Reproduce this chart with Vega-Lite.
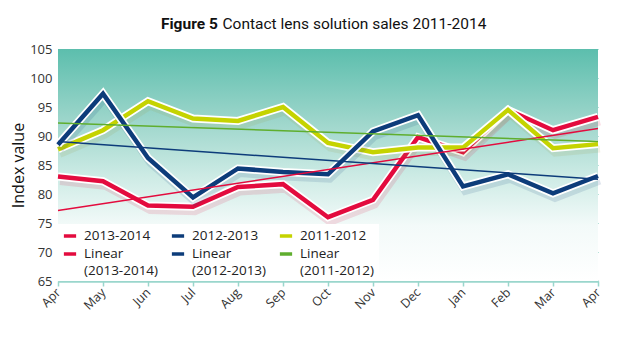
{
  "$schema": "https://vega.github.io/schema/vega-lite/v6.json",
  "width": 540,
  "height": 232,
  "autosize": "none",
  "padding": {"left": 58, "top": 49, "right": 32, "bottom": 57},
  "background": "white",
  "title": {
    "text": "Figure 5",
    "subtitle": "\u200b\u00a0\u00a0\u00a0\u00a0\u00a0\u00a0\u00a0\u00a0\u00a0\u00a0\u00a0\u00a0\u00a0\u00a0\u00a0\u00a0Contact lens solution sales 2011-2014",
    "anchor": "start",
    "frame": "group",
    "dx": 103,
    "offset": 11,
    "font": "Roboto",
    "fontSize": 15.5,
    "fontWeight": "bold",
    "color": "#111",
    "subtitleFont": "Roboto",
    "subtitleFontSize": 15.5,
    "subtitleFontWeight": "normal",
    "subtitleColor": "#111",
    "subtitlePadding": -15.5
  },
  "config": {
    "view": {"stroke": null},
    "font": "Open Sans"
  },
  "data": {
    "values": [
      {"m": 0, "month": "Apr", "series": "2013-2014", "trend": "Linear (2013-2014)", "value": 83.0},
      {"m": 1, "month": "May", "series": "2013-2014", "trend": "Linear (2013-2014)", "value": 82.2},
      {"m": 2, "month": "Jun", "series": "2013-2014", "trend": "Linear (2013-2014)", "value": 78.0},
      {"m": 3, "month": "Jul", "series": "2013-2014", "trend": "Linear (2013-2014)", "value": 77.8},
      {"m": 4, "month": "Aug", "series": "2013-2014", "trend": "Linear (2013-2014)", "value": 81.2},
      {"m": 5, "month": "Sep", "series": "2013-2014", "trend": "Linear (2013-2014)", "value": 81.7},
      {"m": 6, "month": "Oct", "series": "2013-2014", "trend": "Linear (2013-2014)", "value": 76.0},
      {"m": 7, "month": "Nov", "series": "2013-2014", "trend": "Linear (2013-2014)", "value": 79.0},
      {"m": 8, "month": "Dec", "series": "2013-2014", "trend": "Linear (2013-2014)", "value": 89.8},
      {"m": 9, "month": "Jan", "series": "2013-2014", "trend": "Linear (2013-2014)", "value": 87.2},
      {"m": 10, "month": "Feb", "series": "2013-2014", "trend": "Linear (2013-2014)", "value": 94.5},
      {"m": 11, "month": "Mar", "series": "2013-2014", "trend": "Linear (2013-2014)", "value": 91.0},
      {"m": 12, "month": "Apr", "series": "2013-2014", "trend": "Linear (2013-2014)", "value": 93.3},
      {"m": 0, "month": "Apr", "series": "2012-2013", "trend": "Linear (2012-2013)", "value": 88.5},
      {"m": 1, "month": "May", "series": "2012-2013", "trend": "Linear (2012-2013)", "value": 97.3},
      {"m": 2, "month": "Jun", "series": "2012-2013", "trend": "Linear (2012-2013)", "value": 86.2},
      {"m": 3, "month": "Jul", "series": "2012-2013", "trend": "Linear (2012-2013)", "value": 79.4},
      {"m": 4, "month": "Aug", "series": "2012-2013", "trend": "Linear (2012-2013)", "value": 84.4},
      {"m": 5, "month": "Sep", "series": "2012-2013", "trend": "Linear (2012-2013)", "value": 83.8},
      {"m": 6, "month": "Oct", "series": "2012-2013", "trend": "Linear (2012-2013)", "value": 83.4},
      {"m": 7, "month": "Nov", "series": "2012-2013", "trend": "Linear (2012-2013)", "value": 90.8},
      {"m": 8, "month": "Dec", "series": "2012-2013", "trend": "Linear (2012-2013)", "value": 93.6},
      {"m": 9, "month": "Jan", "series": "2012-2013", "trend": "Linear (2012-2013)", "value": 81.3},
      {"m": 10, "month": "Feb", "series": "2012-2013", "trend": "Linear (2012-2013)", "value": 83.4},
      {"m": 11, "month": "Mar", "series": "2012-2013", "trend": "Linear (2012-2013)", "value": 80.1},
      {"m": 12, "month": "Apr", "series": "2012-2013", "trend": "Linear (2012-2013)", "value": 83.1},
      {"m": 0, "month": "Apr", "series": "2011-2012", "trend": "Linear (2011-2012)", "value": 87.7},
      {"m": 1, "month": "May", "series": "2011-2012", "trend": "Linear (2011-2012)", "value": 91.0},
      {"m": 2, "month": "Jun", "series": "2011-2012", "trend": "Linear (2011-2012)", "value": 96.0},
      {"m": 3, "month": "Jul", "series": "2011-2012", "trend": "Linear (2011-2012)", "value": 93.0},
      {"m": 4, "month": "Aug", "series": "2011-2012", "trend": "Linear (2011-2012)", "value": 92.6},
      {"m": 5, "month": "Sep", "series": "2011-2012", "trend": "Linear (2011-2012)", "value": 95.0},
      {"m": 6, "month": "Oct", "series": "2011-2012", "trend": "Linear (2011-2012)", "value": 88.8},
      {"m": 7, "month": "Nov", "series": "2011-2012", "trend": "Linear (2011-2012)", "value": 87.2},
      {"m": 8, "month": "Dec", "series": "2011-2012", "trend": "Linear (2011-2012)", "value": 88.0},
      {"m": 9, "month": "Jan", "series": "2011-2012", "trend": "Linear (2011-2012)", "value": 88.0},
      {"m": 10, "month": "Feb", "series": "2011-2012", "trend": "Linear (2011-2012)", "value": 94.5},
      {"m": 11, "month": "Mar", "series": "2011-2012", "trend": "Linear (2011-2012)", "value": 87.9},
      {"m": 12, "month": "Apr", "series": "2011-2012", "trend": "Linear (2011-2012)", "value": 88.6}
    ]
  },
  "encoding": {
    "x": {
      "field": "m",
      "type": "quantitative",
      "scale": {"domain": [0, 12], "nice": false, "zero": false},
      "axis": {
        "title": null,
        "values": [0, 1, 2, 3, 4, 5, 6, 7, 8, 9, 10, 11, 12],
        "labelExpr": "datum.value == 0 || datum.value == 12 ? 'Apr' : datum.value == 1 ? 'May' : datum.value == 2 ? 'Jun' : datum.value == 3 ? 'Jul' : datum.value == 4 ? 'Aug' : datum.value == 5 ? 'Sep' : datum.value == 6 ? 'Oct' : datum.value == 7 ? 'Nov' : datum.value == 8 ? 'Dec' : datum.value == 9 ? 'Jan' : datum.value == 10 ? 'Feb' : 'Mar'",
        "labelAngle": -45,
        "labelAlign": "right",
        "labelBaseline": "middle",
        "labelFontSize": 12.5,
        "labelColor": "#333",
        "labelPadding": 4,
        "grid": false,
        "domainColor": "#9ad6cc",
        "domainWidth": 2.5,
        "tickColor": "#9ad6cc",
        "tickWidth": 1.5,
        "tickSize": 5,
        "labelFlush": false,
        "labelOverlap": false
      }
    },
    "y": {
      "field": "value",
      "type": "quantitative",
      "scale": {"domain": [65, 105], "nice": false, "zero": false},
      "axis": {
        "title": "Index value",
        "titleFontSize": 16,
        "titleFontWeight": "normal",
        "titleColor": "#111",
        "titlePadding": 3,
        "values": [65, 70, 75, 80, 85, 90, 95, 100, 105],
        "labelFontSize": 13,
        "labelColor": "#333",
        "labelPadding": 6,
        "domain": false,
        "ticks": false,
        "grid": true,
        "gridColor": "#6cc4b3",
        "gridWidth": 1
      }
    }
  },
  "layer": [
    {
      "mark": {"type": "rect", "fill": {"gradient": "linear", "x1": 0, "y1": 0, "x2": 0, "y2": 1, "stops": [{"offset": 0, "color": "#5cbead"}, {"offset": 0.3, "color": "#9bd5ca"}, {"offset": 0.55, "color": "#cdebe5"}, {"offset": 0.76, "color": "#f3faf9"}, {"offset": 1, "color": "#ffffff"}]}},
      "encoding": {"x": {"value": 0}, "x2": {"value": "width"}, "y": {"value": 0}, "y2": {"value": "height"}}
    },
    {
      "transform": [{"filter": "datum.series === '2013-2014'"}],
      "layer": [
        {"mark": {"type": "line", "strokeWidth": 7, "color": "#e30b3e", "opacity": 0.13, "xOffset": 2, "yOffset": 5}},
        {"mark": {"type": "line", "strokeWidth": 8, "color": "white"}},
        {"mark": {"type": "line", "strokeWidth": 4.5},
         "encoding": {"color": {"field": "series", "type": "nominal",
           "scale": {"domain": ["2013-2014", "Linear (2013-2014)", "2012-2013", "Linear (2012-2013)", "2011-2012", "Linear (2011-2012)"], "range": ["#e30b3e", "#e30b3e", "#0d3c7a", "#0d3c7a", "#c5d300", "#5fae2e"]},
           "legend": {
             "title": null,
             "orient": "none",
             "legendX": 0,
             "legendY": 175,
             "columns": 3,
             "fillColor": "white",
             "padding": 4,
             "columnPadding": 5,
             "rowPadding": 3,
             "symbolType": "stroke",
             "symbolSize": 150,
             "symbolStrokeWidth": 3.5,
             "labelFontSize": 13.5,
             "labelColor": "#222",
             "labelLimit": 200,
             "labelOffset": 6,
             "labelExpr": "replace(datum.label, 'Linear ', 'Linear\\n')",
             "encode": {
               "labels": {"update": {"lineBreak": {"value": "\n"}, "lineHeight": {"value": 16.5}}}
             }
           }}}}
      ]
    },
    {
      "transform": [{"filter": "datum.series === '2011-2012'"}],
      "layer": [
        {"mark": {"type": "line", "strokeWidth": 7, "color": "#9a9a40", "opacity": 0.13, "xOffset": 2, "yOffset": 5}},
        {"mark": {"type": "line", "strokeWidth": 8, "color": "white"}},
        {"mark": {"type": "line", "strokeWidth": 4.5}, "encoding": {"color": {"field": "series", "type": "nominal"}}}
      ]
    },
    {
      "transform": [{"filter": "datum.series === '2012-2013'"}],
      "layer": [
        {"mark": {"type": "line", "strokeWidth": 7, "color": "#0d3c7a", "opacity": 0.13, "xOffset": 2, "yOffset": 5}},
        {"mark": {"type": "line", "strokeWidth": 8, "color": "white"}},
        {"mark": {"type": "line", "strokeWidth": 4.5}, "encoding": {"color": {"field": "series", "type": "nominal"}}}
      ]
    },
    {
      "transform": [{"regression": "value", "on": "m", "groupby": ["trend"], "extent": [0, 12]}],
      "mark": {"type": "line", "strokeWidth": 1.5},
      "encoding": {"color": {"field": "trend", "type": "nominal"}}
    }
  ]
}
